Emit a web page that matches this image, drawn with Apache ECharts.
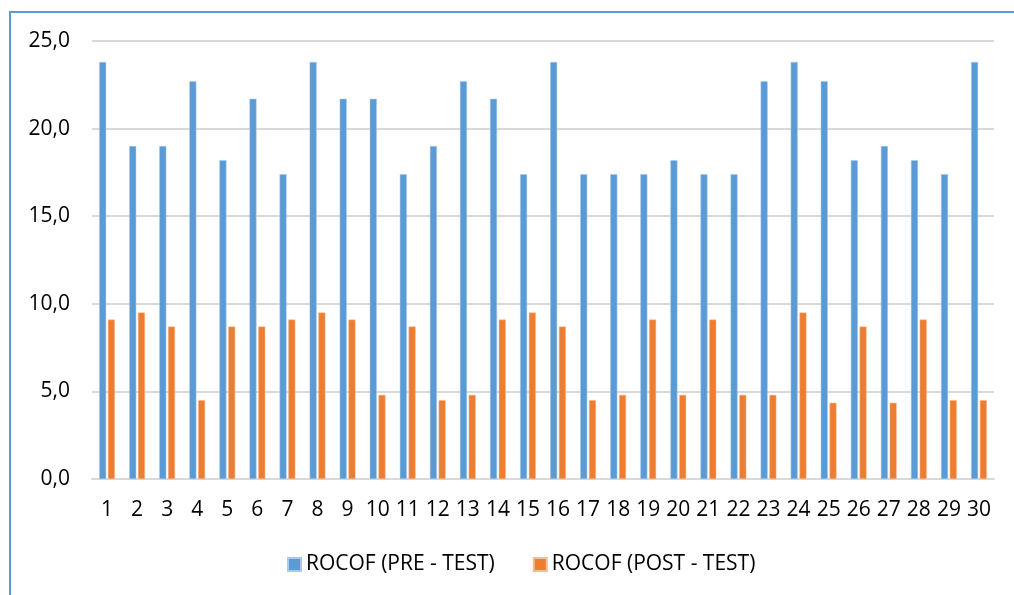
<!DOCTYPE html>
<html>
<head>
<meta charset="utf-8">
<script src="https://cdn.jsdelivr.net/npm/echarts@6/dist/echarts.min.js"></script>
<style>
  html, body { margin: 0; padding: 0; background: #fff; }
  #chart { width: 1014px; height: 595px; }
</style>
</head>
<body>
<div id="chart"></div>
<script>
// ROCOF scores per participant, before and after the test
const categories = ['1','2','3','4','5','6','7','8','9','10','11','12','13','14','15','16','17','18','19','20','21','22','23','24','25','26','27','28','29','30'];
const preTest = [23.8, 19.0, 19.0, 22.7, 18.2, 21.7, 17.4, 23.8, 21.7, 21.7, 17.4, 19.0, 22.7, 21.7, 17.4, 23.8, 17.4, 17.4, 17.4, 18.2, 17.4, 17.4, 22.7, 23.8, 22.7, 18.2, 19.0, 18.2, 17.4, 23.8];
const postTest = [9.1, 9.5, 8.7, 4.5, 8.7, 8.7, 9.1, 9.5, 9.1, 4.8, 8.7, 4.5, 4.8, 9.1, 9.5, 8.7, 4.5, 4.8, 9.1, 4.8, 9.1, 4.8, 4.8, 9.5, 4.35, 8.7, 4.35, 9.1, 4.5, 4.5];
const seriesNames = ['ROCOF (PRE - TEST)', 'ROCOF (POST - TEST)'];

const FONT = 'Open Sans';
const chart = echarts.init(document.getElementById('chart'), null, { renderer: 'canvas' });

chart.setOption({
  animation: false,
  backgroundColor: '#ffffff',
  textStyle: { fontFamily: FONT },
  graphic: [{
    type: 'rect',
    shape: { x: 10, y: 12, width: 1020, height: 600 },
    style: { fill: 'none', stroke: '#5b9bd5', lineWidth: 2 },
    silent: true
  }],
  grid: { left: 92, right: 20, top: 41, bottom: 116, containLabel: false },
  legend: {
    bottom: 15,
    left: 282,
    itemWidth: 13,
    itemHeight: 13,
    itemGap: 38,
    icon: 'rect',
    textStyle: { fontFamily: FONT, fontSize: 21, color: '#000' },
    data: seriesNames
  },
  xAxis: {
    type: 'category',
    data: categories,
    axisTick: { show: false },
    axisLine: { show: true, lineStyle: { color: '#d9d9d9', width: 2 } },
    axisLabel: { color: '#000', fontSize: 21, fontFamily: FONT, margin: 21, interval: 0 }
  },
  yAxis: {
    type: 'value',
    min: 0,
    max: 25,
    interval: 5,
    axisLine: { show: false },
    axisTick: { show: false },
    splitLine: { lineStyle: { color: '#d9d9d9', width: 2 } },
    axisLabel: {
      color: '#000', fontSize: 21, fontFamily: FONT, margin: 22,
      formatter: v => v.toFixed(1).replace('.', ',')
    }
  },
  series: [
    {
      name: seriesNames[0],
      type: 'bar',
      data: preTest,
      barWidth: 7,
      barGap: '25%',
      itemStyle: { color: '#5b9bd5', borderColor: '#a9c8ea', borderWidth: 0.5 }
    },
    {
      name: seriesNames[1],
      type: 'bar',
      data: postTest,
      barWidth: 7,
      barGap: '25%',
      itemStyle: { color: '#ed7d31', borderColor: '#f5bc96', borderWidth: 0.5 }
    }
  ]
});
</script>
</body>
</html>
